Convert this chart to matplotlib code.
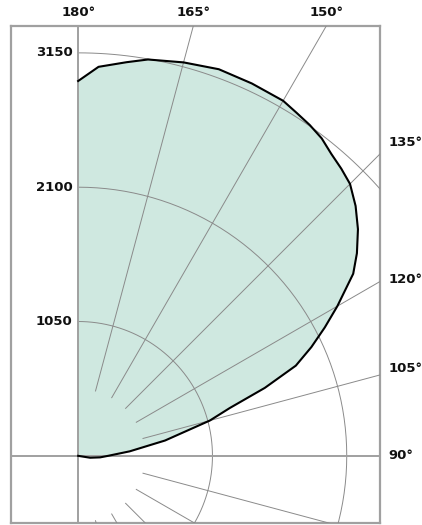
import numpy as np
import matplotlib.pyplot as plt

# polar data (angle in degrees, radius)
theta_deg = [180, 177, 173, 170, 165, 160, 155, 150, 147.5, 145, 142.5, 140,
             137.5, 135, 132, 129, 126, 123.5, 120, 117.5, 115, 112.5, 110,
             107.5, 105, 100, 95, 90, 86, 81, 75]
radius = [2930, 3045, 3100, 3146, 3184, 3216, 3212, 3205, 3179, 3157, 3128,
          3080, 3045, 3006, 2919, 2815, 2694, 2579, 2340, 2174, 2012, 1842,
          1553, 1243, 1066, 690, 405, 234, 172, 95, 0]

r_ticks = [1050, 2100, 3150]
theta_ticks = [180, 165, 150, 135, 120, 105, 90]
spoke_angles = [15, 30, 45, 60, 75, 105, 120, 135, 150, 165]

xlim = (-525, 2360)
ylim = (-525, 3360)


def to_xy(th, r):
    # 0 deg points down, angles grow counter-clockwise (90 -> right, 180 -> up)
    th = np.radians(np.asarray(th, dtype=float))
    r = np.asarray(r, dtype=float)
    return r * np.sin(th), -r * np.cos(th)


fig = plt.figure(figsize=(4.22, 5.25), dpi=100)
ax = fig.add_axes([11 / 422, 2 / 525, 369 / 422, 497 / 525])
ax.set_xlim(*xlim)
ax.set_ylim(*ylim)
ax.set_xticks([])
ax.set_yticks([])
for sp in ax.spines.values():
    sp.set_color('#a0a0a0')
    sp.set_linewidth(1.6)

grid_kw = dict(color='#8a8a8a', lw=0.7, zorder=3)

# rings, only on the right half
arc = np.linspace(0, 180, 181)
for r in r_ticks:
    cx, cy = to_xy(arc, np.full_like(arc, r))
    ax.plot(cx, cy, **grid_kw)

# spokes starting at half the first ring
for a in spoke_angles:
    sx, sy = to_xy([a, a], [r_ticks[0] / 2, 6000])
    ax.plot(sx, sy, **grid_kw)

# zero axes
ax.axhline(0, color='#a0a0a0', lw=1.4, zorder=4)
ax.axvline(0, color='#a0a0a0', lw=1.4, zorder=4)

# data
x, y = to_xy(theta_deg, radius)
ax.fill(x, y, color='#cfe8e0', zorder=2, lw=0)
ax.plot(x, y, color='black', lw=1.5, zorder=5, solid_joinstyle='round')

font = dict(family='DejaVu Sans', weight='bold', size=9.5, color='#111111')

# radial labels
for r in r_ticks:
    ax.annotate(str(r), (0, r), xytext=(-4, 0), textcoords='offset points',
                ha='right', va='center', annotation_clip=False, **font)

# angle labels where the rays meet the frame
nudge = {135: 8, 120: 1.5, 105: 4.5}
for a in theta_ticks:
    th = np.radians(a)
    dx, dy = np.sin(th), -np.cos(th)
    t_top = ylim[1] / dy if dy > 1e-9 else np.inf
    t_right = xlim[1] / dx if dx > 1e-9 else np.inf
    if t_top <= t_right:
        ax.annotate(f'{a}°', (t_top * dx, ylim[1]), xytext=(0, 9.5),
                    textcoords='offset points', ha='center', va='center',
                    annotation_clip=False, **font)
    else:
        ax.annotate(f'{a}°', (xlim[1], t_right * dy), xytext=(6, nudge.get(a, 0)),
                    textcoords='offset points', ha='left', va='center',
                    annotation_clip=False, **font)

fig.savefig('out.png', dpi=100)
